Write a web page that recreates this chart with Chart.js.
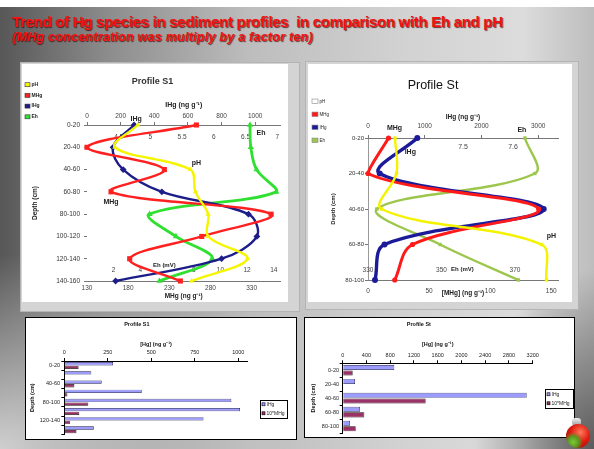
<!DOCTYPE html>
<html>
<head>
<meta charset="utf-8">
<script src="https://cdn.jsdelivr.net/npm/chart.js@4.4.1/dist/chart.umd.min.js"></script>
<style>
  html, body { margin: 0; padding: 0; }
  body {
    width: 594px; height: 449px; position: relative; overflow: hidden;
    font-family: "Liberation Sans", Arial, sans-serif;
    background:
      radial-gradient(ellipse 380px 260px at 0% 100%, rgba(214,214,214,0.95), rgba(214,214,214,0) 75%),
      radial-gradient(ellipse 160px 240px at 100% 100%, rgba(80,80,80,0.9), rgba(80,80,80,0) 75%),
      linear-gradient(90deg, #575757 0%, #8c8c8c 18%, #bdbdbd 42%, #d2d2d2 68%, #dcdcdc 88%, #bdbdbd 100%);
  }
  .topwhite { position: absolute; left: 0; top: 0; width: 594px; height: 7px; background: #fff; }
  .t1, .t2 {
    position: absolute; left: 12px; white-space: nowrap; color: #f41010; font-weight: bold;
    text-shadow: 1px 1px 1px rgba(60,0,0,0.75);
  }
  .t1 { top: 14px; font-size: 15px; line-height: 15px; letter-spacing: -0.3px; }
  .t2 { top: 31px; font-size: 12.5px; line-height: 13px; font-style: italic; letter-spacing: 0.25px; }
  .frame { position: absolute; background: #d4d4d4; box-shadow: inset 0 0 0 1px #b4b4b4; }
  .paper { position: absolute; background: #fff; }
  .box { position: absolute; background: #fff; border: 1px solid #000; box-sizing: border-box; }
  canvas { position: absolute; }
  .apple {
    position: absolute; left: 566px; top: 424px; width: 24px; height: 24px; border-radius: 50%;
    background:
      radial-gradient(circle at 30% 75%, #7fc83a 0, #5a9a20 22%, rgba(90,154,32,0) 40%),
      radial-gradient(circle at 60% 35%, #ff7a5a 0, #e01b10 45%, #8a0606 100%);
  }
  .stem { position: absolute; left: 572px; top: 418px; width: 9px; height: 8px; border-radius: 40%;
    background: linear-gradient(#f0f0f0, #9a9a9a); }
</style>
</head>
<body>
<div class="topwhite"></div>
<div class="t1">Trend of Hg species in sediment profiles&nbsp; in comparison with Eh and pH</div>
<div class="t2">(MHg concentration was multiply by a factor ten)</div>

<div class="frame" style="left:20px;top:62px;width:280px;height:250px"></div>
<div class="paper" style="left:22px;top:64px;width:266px;height:238px"></div>
<canvas id="lineS1" width="266" height="238" style="left:22px;top:64px"></canvas>

<div class="frame" style="left:305px;top:61px;width:274px;height:249px"></div>
<div class="paper" style="left:308px;top:64px;width:264px;height:238px"></div>
<canvas id="lineSt" width="264" height="238" style="left:308px;top:64px"></canvas>

<div class="box" style="left:25px;top:317px;width:272px;height:123px"></div>
<canvas id="barS1" width="270" height="121" style="left:26px;top:318px"></canvas>

<div class="box" style="left:304px;top:317px;width:271px;height:121px"></div>
<canvas id="barSt" width="269" height="119" style="left:305px;top:318px"></canvas>

<div class="stem"></div>
<div class="apple"></div>

<script>
// ---- Profile S1 ----
const depthS1 = ['0-20', '20-40', '40-60', '60-80', '80-100', '100-120', '120-140', '140-160'];
const ihgS1   = [280, 155, 215, 445, 960, 1010, 800, 170];      // IHg, ng/g
const mhgS1   = [8.2, 0, 5.8, 1.8, 13.8, 8.6, 3.2, 7.0];        // MHg, ng/g
const mhg10S1 = [82, 0, 58, 18, 138, 86, 32, 70];               // 10*MHg, ng/g
const phS1    = [4.80, 4.44, 5.63, 5.71, 5.91, 5.91, 6.53, 5.65];
const ehS1    = [328, 329, 336, 360, 206, 238, 282, 218];       // mV

// ---- Profile St ----
const depthSt = ['0-20', '20-40', '40-60', '60-80', '80-100'];
const ihgSt   = [869, 207, 3098, 291, 123];
const mhgSt   = [16.8, 0, 139.7, 36.4, 21.9];
const mhg10St = [168, 0, 1397, 364, 219];
const phSt    = [7.364, 7.367, 7.337, 7.657, 7.667];
const ehSt    = [372.7, 375.4, 332.4, 349.6, 370.9];

// ---- tick values ----
const hgTicksS1  = [0, 200, 400, 600, 800, 1000];
const phTicksS1  = [4.5, 5, 5.5, 6, 6.5, 7];
const mhgTicksS1 = [2, 4, 8, 10, 12, 14];
const ehTicksS1  = [130, 180, 230, 280, 330];
const hgTicksSt  = [0, 1000, 2000, 3000];
const phTicksSt  = [7.5, 7.6];
const ehTicksSt  = [330, 350, 370];
const mhgTicksSt = [0, 50, 100, 150];
const barTicksS1 = [0, 250, 500, 750, 1000];
const barTicksSt = [0, 400, 800, 1200, 1600, 2000, 2400, 2800, 3200];

const FONT = '"Liberation Sans", Arial, sans-serif';
Chart.defaults.font.family = FONT;
const f = (size, weight = 'normal', style = 'normal') => ({ family: FONT, size, weight, style, lineHeight: 1.2 });
const useTicks = list => scale => { scale.ticks = list.map(value => ({ value })); };
const fixW = w => s => { s.width = w; };
const fixH = h => s => { s.height = h; };
const plain = v => String(v);

function valueAxis(o) {
  return {
    type: 'linear', position: o.position, min: o.min, max: o.max,
    afterBuildTicks: useTicks(o.ticks),
    afterFit: o.height != null ? fixH(o.height) : undefined,
    ticks: { font: f(o.font || 6.5, o.weight || 'normal'), color: o.color || '#444', padding: o.pad,
             callback: plain, maxRotation: 0, autoSkip: false },
    grid: { display: !!o.tl, drawOnChartArea: false, drawTicks: !!o.tl, tickLength: o.tl || 0,
            color: o.lineColor || '#777' },
    border: { display: !!o.border, color: o.lineColor || '#777', width: 1 },
    title: o.title ? { display: true, text: o.title, color: '#222', font: f(o.titleSize || 6.5, 'bold'),
                       padding: o.titlePad } : { display: false }
  };
}

// legend, series names and inner-axis captions drawn onto the plot
const notesPlugin = {
  id: 'notes',
  afterDraw(chart, args, o) {
    const ctx = chart.ctx;
    ctx.save();
    ctx.textBaseline = 'middle';
    const L = o.legend;
    if (L) {
      if (L.frame) {
        ctx.strokeStyle = '#000'; ctx.lineWidth = 1;
        ctx.strokeRect(L.frame[0] + 0.5, L.frame[1] + 0.5, L.frame[2], L.frame[3]);
      }
      chart.data.datasets.forEach((ds, k) => {
        const y = L.y + k * L.step;
        ctx.fillStyle = (L.swatch && L.swatch[k]) || ds.backgroundColor;
        ctx.fillRect(L.x, y - L.h / 2, L.w, L.h);
        ctx.strokeStyle = L.edge || '#333'; ctx.lineWidth = 0.6;
        ctx.strokeRect(L.x, y - L.h / 2, L.w, L.h);
        ctx.fillStyle = '#222';
        ctx.textAlign = 'left';
        ctx.font = `${L.bold ? 'bold ' : ''}${L.size}px ${FONT}`;
        ctx.fillText(ds.label, L.x + L.w + 1.5, y);
      });
    }
    (o.labels || []).forEach(l => {
      const p = chart.getDatasetMeta(l.ds).data[l.i];
      ctx.font = `bold ${l.size || 7}px ${FONT}`;
      ctx.fillStyle = '#222';
      ctx.textAlign = 'center';
      ctx.fillText(l.text, p.x + l.dx, p.y + l.dy);
    });
    (o.captions || []).forEach(n => {
      const x = chart.scales[n.scale].getPixelForValue(n.xv);
      const y = chart.scales.y.getPixelForValue(n.yv);
      ctx.font = `bold ${n.size || 6}px ${FONT}`;
      ctx.fillStyle = '#222';
      ctx.textAlign = 'center';
      ctx.fillText(n.text, x, y);
    });
    ctx.restore();
  }
};

function lineSet(label, data, axis, color, style, radius, width) {
  return {
    label, data, xAxisID: axis, borderColor: color, backgroundColor: color,
    pointBackgroundColor: color, pointBorderColor: color, pointBorderWidth: 0,
    pointStyle: style, pointRadius: radius, borderWidth: width, tension: 0.35, clip: false
  };
}

function depthAxis(width, size, pad, titlePad, border) {
  return {
    type: 'category', offset: false, afterFit: fixW(width),
    ticks: { font: f(size), color: '#333', padding: pad, autoSkip: false },
    grid: { display: true, drawOnChartArea: false, drawTicks: true, tickLength: 3, color: '#777' },
    border: { display: border, color: '#999' },
    title: { display: true, text: 'Depth (cm)', color: '#222', font: f(size, 'bold'), padding: { top: titlePad, bottom: 0 } }
  };
}

// ---- Profile S1 : depth profile ----
new Chart(document.getElementById('lineS1'), {
  type: 'line',
  data: {
    labels: depthS1,
    datasets: [
      lineSet('pH', phS1, 'xPh', '#f5f500', 'triangle', 3, 2.4),
      lineSet('MHg', mhgS1, 'xMhg', '#ff2020', 'rect', 3.6, 2.4),
      lineSet('IHg', ihgS1, 'xHg', '#1d1d8a', 'rectRot', 3.4, 2.4),
      lineSet('Eh', ehS1, 'xEh', '#30e030', 'triangle', 3.6, 2.8)
    ]
  },
  options: {
    indexAxis: 'y', responsive: false, animation: false, devicePixelRatio: 1,
    layout: { padding: { left: 0, right: 5, top: 0, bottom: 0 } },
    plugins: {
      legend: { display: false }, tooltip: { enabled: false },
      title: { display: true, text: 'Profile S1', color: '#333', font: f(9, 'bold'), padding: { top: 12.6, bottom: 0 } },
      notes: {
        legend: { x: 3, y: 20.7, step: 10.7, w: 5, h: 4, size: 5, bold: true },
        labels: [
          { text: 'IHg', ds: 2, i: 0, dx: 2, dy: -6 },
          { text: 'pH', ds: 0, i: 2, dx: 6, dy: -6.5 },
          { text: 'MHg', ds: 1, i: 3, dx: 0, dy: 10 },
          { text: 'Eh', ds: 3, i: 0, dx: 11, dy: 8 }
        ],
        captions: [{ text: 'Eh (mV)', scale: 'xMhg', xv: 5.8, yv: 6.28 }]
      }
    },
    scales: {
      y: depthAxis(65, 6.5, 4, 9.1, false),
      xHg: valueAxis({ position: 'top', min: 0, max: 1150, ticks: hgTicksS1, pad: 2, tl: 3, border: true,
                       title: 'IHg (ng g⁻¹)', titleSize: 7, titlePad: { top: 13.2, bottom: 0 }, height: 37.6 }),
      xPh: valueAxis({ position: { y: 0 }, min: 4.0, max: 7.05, ticks: phTicksS1, pad: 8.8 }),
      xMhg: valueAxis({ position: { y: 6.3 }, min: 0, max: 14.5, ticks: mhgTicksS1, pad: 1.2 }),
      xEh: valueAxis({ position: 'bottom', min: 130, max: 365, ticks: ehTicksS1, pad: 3, border: true,
                       title: 'MHg (ng g⁻¹)', titlePad: { top: 0, bottom: 1.4 }, height: 21 })
    }
  },
  plugins: [notesPlugin]
});

// ---- Profile St : depth profile ----
new Chart(document.getElementById('lineSt'), {
  type: 'line',
  data: {
    labels: depthSt,
    datasets: [
      lineSet('pH', phSt, 'xPh', '#f3f300', 'rect', 2.4, 2.4),
      lineSet('MHg', mhgSt, 'xMhg', '#ff1a1a', 'circle', 2.6, 3),
      lineSet('IHg', ihgSt, 'xHg', '#1b1b9a', 'circle', 3, 3.4),
      lineSet('Eh', ehSt, 'xEh', '#9cc64c', 'rect', 2.4, 2.4)
    ]
  },
  options: {
    indexAxis: 'y', responsive: false, animation: false, devicePixelRatio: 1,
    layout: { padding: { left: 0, right: 14, top: 0, bottom: 0 } },
    plugins: {
      legend: { display: false }, tooltip: { enabled: false },
      title: { display: true, text: 'Profile St', color: '#111', font: f(12.5), padding: { top: 13.8, bottom: 0 } },
      notes: {
        legend: { x: 4, y: 37.3, step: 13, w: 6, h: 4.5, size: 4.5, swatch: ['#ffffff'], edge: '#888' },
        labels: [
          { text: 'MHg', ds: 1, i: 0, dx: 6, dy: -10 },
          { text: 'IHg', ds: 2, i: 0, dx: -7, dy: 14 },
          { text: 'Eh', ds: 3, i: 0, dx: -3, dy: -8 },
          { text: 'pH', ds: 0, i: 3, dx: 10, dy: -8 }
        ],
        captions: [{ text: 'Eh (mV)', scale: 'xEh', xv: 355.7, yv: 3.71 }]
      }
    },
    scales: {
      y: depthAxis(60, 6, 1, 21.4, true),
      xHg: valueAxis({ position: 'top', min: 0, max: 3350, ticks: hgTicksSt, pad: 4.4, tl: 3, border: true,
                       title: 'IHg (ng g⁻¹)', titlePad: { top: 20.3, bottom: 0 }, height: 45.2 }),
      xPh: valueAxis({ position: { y: 0 }, min: 7.31, max: 7.69, ticks: phTicksSt, pad: 4.8, font: 7 }),
      xEh: valueAxis({ position: { y: 3.6 }, min: 330, max: 381.7, ticks: ehTicksSt, pad: 0.4 }),
      xMhg: valueAxis({ position: 'bottom', min: 0, max: 155.5, ticks: mhgTicksSt, pad: 7, border: true,
                        title: '[MHg] (ng g⁻¹)', titlePad: { top: 0, bottom: 4.8 }, height: 22 })
    }
  },
  plugins: [notesPlugin]
});

// ---- bar charts: IHg and 10*MHg by depth ----
function barChart(id, title, labels, ihg, mhg10, max, ticks, geom) {
  return new Chart(document.getElementById(id), {
    type: 'bar',
    data: {
      labels,
      datasets: [
        { label: 'IHg', data: ihg, backgroundColor: '#9c9cff', borderColor: '#1a1a4a',
          borderWidth: 0.7, categoryPercentage: 0.8, barPercentage: 0.9 },
        { label: '10*MHg', data: mhg10, backgroundColor: '#993366', borderColor: '#1a0a10',
          borderWidth: c => (c.raw === 0 ? 0 : 0.7), categoryPercentage: 0.8, barPercentage: 0.9 }
      ]
    },
    options: {
      indexAxis: 'y', responsive: false, animation: false, devicePixelRatio: 1,
      layout: { padding: { left: 0, right: geom.right, top: 0, bottom: geom.bottom } },
      plugins: {
        legend: { display: false }, tooltip: { enabled: false },
        title: { display: true, text: title, color: '#111', font: f(5.5, 'bold'), padding: { top: 3, bottom: 0 } },
        notes: { legend: { frame: geom.frame, x: geom.frame[0] + 2, y: geom.legendY, step: 9, w: 3, h: 3, size: 5, edge: '#000' } }
      },
      scales: {
        x: {
          type: 'linear', position: 'top', min: 0, max,
          afterBuildTicks: useTicks(ticks), afterFit: fixH(geom.xh),
          ticks: { font: f(5.5), color: '#222', padding: 2, callback: plain, maxRotation: 0, autoSkip: false },
          grid: { display: true, drawOnChartArea: false, drawTicks: true, tickLength: 3, color: '#000' },
          border: { display: true, color: '#000', width: 1 },
          title: { display: true, text: '[Hg] (ng g⁻¹)', color: '#111', font: f(5.5, 'bold'), padding: { top: 13.4, bottom: 0 } }
        },
        y: {
          type: 'category', afterFit: fixW(geom.yw),
          ticks: { font: f(5.5), color: '#222', padding: geom.ypad, autoSkip: false,
                   callback(v, i) { return i % geom.every === 0 ? this.getLabelForValue(v) : ''; } },
          grid: { display: true, drawOnChartArea: false, drawTicks: true, tickLength: 3, color: '#000', offset: true },
          border: { display: true, color: '#000', width: 1 },
          title: { display: true, text: 'Depth (cm)', color: '#111', font: f(5.5, 'bold'), padding: { top: geom.ytitle, bottom: 0 } }
        }
      }
    },
    plugins: [notesPlugin]
  });
}

barChart('barS1', 'Profile S1', depthS1, ihgS1, mhg10S1, 1054, barTicksS1,
  { right: 48.3, bottom: 2, xh: 33.4, yw: 38.3, ypad: 1.3, ytitle: 3, every: 2, frame: [234, 82, 27, 18], legendY: 86.3 });
barChart('barSt', 'Profile St', depthSt, ihgSt, mhg10St, 3200, barTicksSt,
  { right: 41.3, bottom: 3.7, xh: 35.7, yw: 37.7, ypad: 0.7, ytitle: 5, every: 1, frame: [240, 71, 28, 19], legendY: 76.3 });
</script>
</body>
</html>
